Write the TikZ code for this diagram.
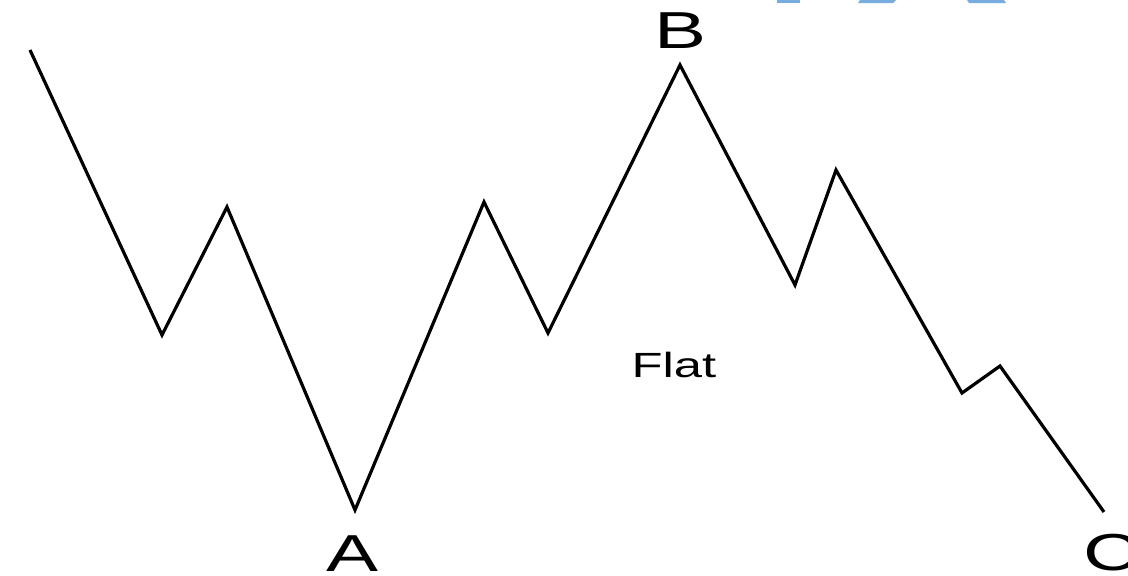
\documentclass[tikz,border=0pt]{standalone}
\usepackage{fontspec}
\setmainfont{Liberation Sans}
\definecolor{wmblue}{RGB}{120,172,222}
\begin{document}
\begin{tikzpicture}[x=1pt,y=-1pt,
  wave/.style={line width=3.2pt,line join=miter,black},
  lbl/.style={anchor=base,inner sep=0pt,xscale=1.5,font=\fontsize{52}{52}\selectfont},
  flatlbl/.style={anchor=base,inner sep=0pt,xscale=1.45,font=\fontsize{35}{35}\selectfont},
  blob/.style={fill=wmblue,draw=none}]
\useasboundingbox (0,0) rectangle (1128,576);
\fill[white] (0,0) rectangle (1128,576);
% watermark fragments at top
\fill[blob] (777,0) rectangle (800,3);
\fill[blob] (860,0) -- (896,0) -- (893,3) -- (858,3) -- cycle;
\fill[blob] (967,0) -- (1004,0) -- (1006,3) -- (969,3) -- cycle;
% wave vertices
\coordinate (p0) at (30,50);
\coordinate (p1) at (162,335);
\coordinate (p2) at (227,207);
\coordinate (p3) at (355,510);
\coordinate (p4) at (484,202);
\coordinate (p5) at (548,333);
\coordinate (p6) at (680,65);
\coordinate (p7) at (795,285);
\coordinate (p8) at (836,170);
\coordinate (p9) at (962,393);
\coordinate (p10) at (1000,366);
\coordinate (p11) at (1104,512);
\draw[wave] (p0) -- (p1) -- (p2) -- (p3) -- (p4) -- (p5) -- (p6) -- (p7) -- (p8) -- (p9) -- (p10) -- (p11);
% labels
\node[lbl] (A) at (353,571) {A};
\node[lbl] (B) at (681,48) {B};
\node[lbl] (C) at (1112,570) {C};
\node[flatlbl] (flat) at (674,377) {Flat};
\end{tikzpicture}
\end{document}
